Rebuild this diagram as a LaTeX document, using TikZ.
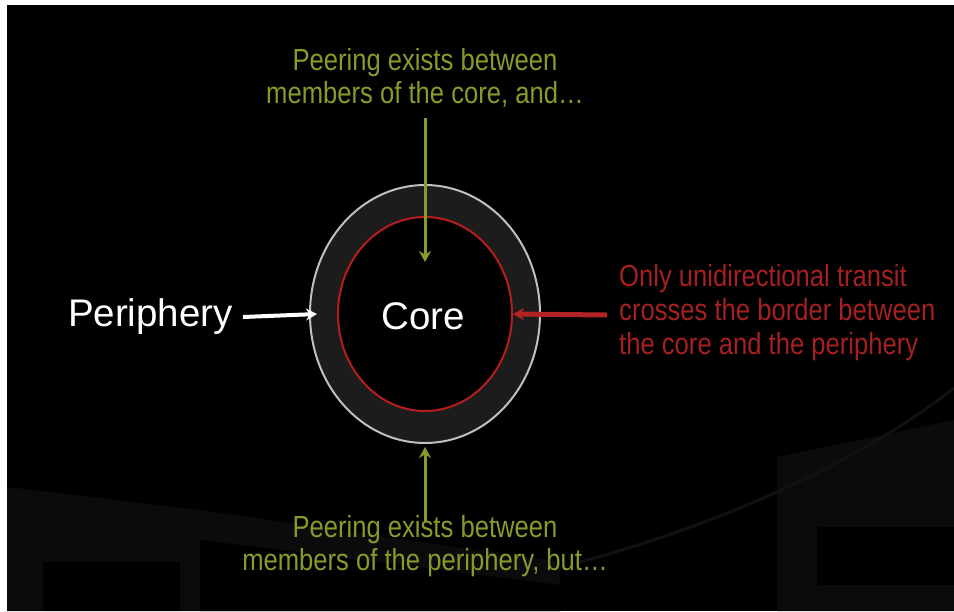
\documentclass[tikz,border=0pt]{standalone}
\usepackage{fontspec}
\setmainfont{Liberation Sans}
\newfontfamily\narrowsans{Liberation Sans}[FakeStretch=0.84]
\usetikzlibrary{shapes.geometric,arrows.meta}

\definecolor{peergreen}{RGB}{138,154,42}
\definecolor{transitred}{RGB}{165,32,32}
\definecolor{arrowred}{RGB}{178,36,36}
\definecolor{corered}{RGB}{182,30,30}
\definecolor{ringfill}{RGB}{28,28,28}
\definecolor{ringline}{RGB}{192,192,192}
\definecolor{haze}{RGB}{11,11,11}
\definecolor{hazeline}{RGB}{17,17,17}

\tikzset{
  bigword/.style={text=white, font=\fontsize{38.5}{42}\selectfont, inner sep=0pt},
  note/.style={font=\narrowsans\fontsize{30.5}{33}\selectfont, inner sep=0pt, align=center},
  ringshape/.style={ellipse, draw=ringline, line width=2pt, fill=ringfill,
    minimum width=230pt, minimum height=258pt, inner sep=0pt},
  coreshape/.style={ellipse, draw=corered, line width=2pt, fill=black,
    minimum width=174pt, minimum height=194pt, inner sep=0pt},
  pointer/.style={-{Stealth[length=11pt,width=12pt]}},
}

\begin{document}
\begin{tikzpicture}[x=1pt,y=-1pt]
  % page, white edge at top and left, black slide
  \useasboundingbox (0,0) rectangle (954,611);
  \fill[white] (0,0) rectangle (954,611);
  \fill[black] (7,5) rectangle (954,611);

  % dim backdrop structures near the bottom
  \fill[haze] (7,487) -- (200,510) -- (560,562) -- (560,611) -- (7,611) -- cycle;
  \fill[black] (43,562) rectangle (180,611);
  \fill[black] (200,540) -- (560,585) -- (560,611) -- (200,611) -- cycle;
  \fill[haze] (777,457) -- (954,420) -- (954,611) -- (777,611) -- cycle;
  \fill[black] (817,527) rectangle (954,585);
  \draw[hazeline, line width=3pt] (954,388) .. controls (850,470) and (700,530) .. (580,562);

  % nested ellipses
  \node[ringshape] (ring) at (425,314) {};
  \node[coreshape] (core) at (425,314) {};
  \node[bigword] (corelabel) at (423,316) {Core};

  % labels
  \node[bigword, anchor=east] (periph) at (233,317) {Periphery};
  \node[note, text=peergreen] (topnote) at (425,78)
    {Peering exists between\\members of the core, and\ldots};
  \node[note, text=peergreen] (botnote) at (425,546)
    {Peering exists between\\members of the periphery, but\ldots};
  \node[note, text=transitred, align=left, anchor=west,
        font=\narrowsans\fontsize{30.5}{34}\selectfont] (transit) at (619,313)
    {Only unidirectional transit\\crosses the border between\\the core and the periphery};

  % arrow end points
  \coordinate (topstart) at (425,118);
  \coordinate (topend) at (425,262);
  \coordinate (botstart) at (425,521);
  \coordinate (redstart) at (607,315);

  % connectors
  \draw[pointer, peergreen, line width=3pt] (topstart) -- (topend);
  \draw[pointer, peergreen, line width=3pt] (botstart) -- ([yshift=-3pt]ring.south);
  \draw[pointer, white, line width=4pt] ([xshift=10pt]periph.east) -- ([xshift=8pt]ring.west);
  \draw[pointer, arrowred, line width=5pt] (redstart) -- (core.east);
\end{tikzpicture}
\end{document}
